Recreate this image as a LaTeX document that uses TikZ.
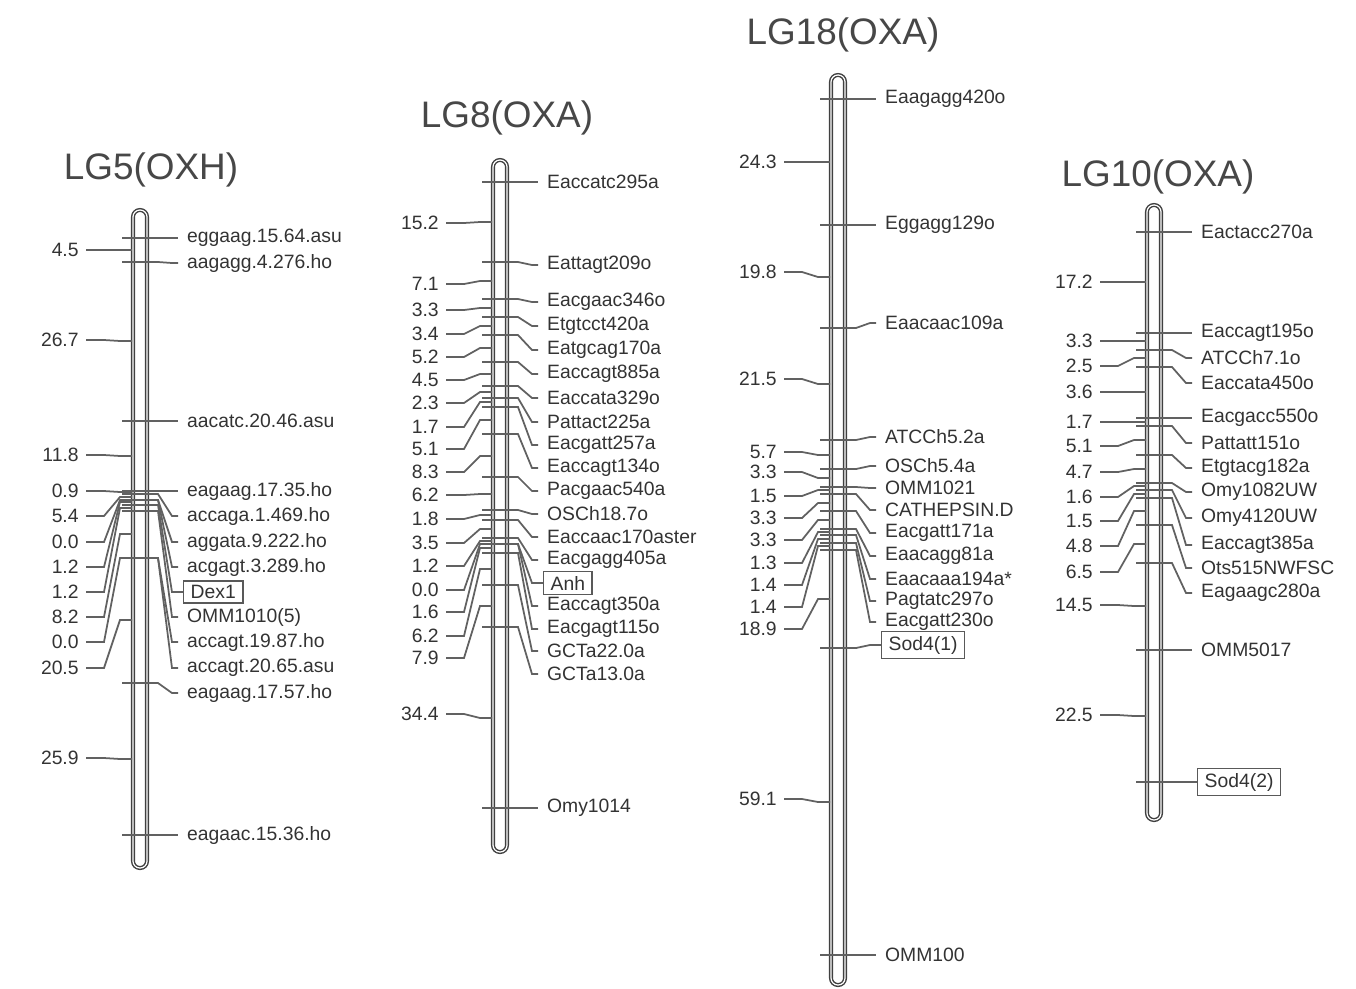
\documentclass[tikz,border=0pt]{standalone}
\usepackage{fontspec}
\setmainfont{Liberation Sans}
\usetikzlibrary{positioning}

\begin{document}
\begin{tikzpicture}[
  x=0.02cm, y=-0.02cm,
  every node/.style={font=\fontsize{11}{12}\selectfont, text=black!80},
  title/.style={font=\fontsize{21}{24}\selectfont, text=black!72},
  chrom/.style={draw=black!75, line width=0.8pt, double=white, double distance=0.7pt,
                fill=white, rounded corners=3.9pt},
  tick/.style={draw=black!62, line width=1pt},
  locus/.style={anchor=west, inner xsep=5pt, inner ysep=1pt},
  locusbox/.style={anchor=west, draw=black!65, line width=0.8pt, xshift=0.1cm,
                  inner xsep=4pt, inner ysep=2.5pt},
  dist/.style={anchor=east, inner xsep=4pt, inner ysep=1pt}
]
  \useasboundingbox (0,0) rectangle (1356,988);

  % LG5
  \begin{scope}[shift={(140,0)}]
    \node[title] (lg5) at (11,170) {LG5(OXH)};
    \draw[chrom] (-7,210) rectangle (7,868);
    \foreach \t/\l/\txt/\s [count=\i] in {
        238/238/eggaag.15.64.asu/locus, 262/263/aagagg.4.276.ho/locus,
        421/421/aacatc.20.46.asu/locus, 491/491/eagaag.17.35.ho/locus,
        494/516/accaga.1.469.ho/locus, 500/542/aggata.9.222.ho/locus,
        500/567/acgagt.3.289.ho/locus, 505/592/Dex1/locusbox,
        511/617/OMM1010(5)/locus, 558/642/accagt.19.87.ho/locus,
        558/668/accagt.20.65.asu/locus, 683/693/eagaag.17.57.ho/locus,
        835/835/eagaac.15.36.ho/locus}{
      \node[\s] (lg5m\i) at (38,\l) {\txt};
      \draw[tick] (-18,\t) -- (18,\t) -- (32,\l) -- (lg5m\i.west);
    }
    \foreach \d/\m/\txt [count=\i] in {
        250/250/4.5, 340/341/26.7, 455/456/11.8, 491/492/0.9, 516/497/5.4,
        542/500/0.0, 567/502/1.2, 592/508/1.2, 617/534/8.2, 642/558/0.0,
        668/620/20.5, 758/759/25.9}{
      \node[dist] (lg5d\i) at (-54,\d) {\txt};
      \draw[tick] (lg5d\i.east) -- (-36,\d) -- (-20,\m) -- (-8,\m);
    }
  \end{scope}

  % LG8
  \begin{scope}[shift={(500,0)}]
    \node[title] (lg8) at (7,118) {LG8(OXA)};
    \draw[chrom] (-7,160) rectangle (7,852);
    \foreach \t/\l/\txt/\s [count=\i] in {
        182/182/Eaccatc295a/locus, 262/265/Eattagt209o/locus,
        299/302/Eacgaac346o/locus, 317/326/Etgtcct420a/locus,
        335/350/Eatgcag170a/locus, 362/374/Eaccagt885a/locus,
        386/398/Eaccata329o/locus, 398/422/Pattact225a/locus,
        407/445/Eacgatt257a/locus, 434/468/Eaccagt134o/locus,
        477/491/Pacgaac540a/locus, 510/514/OSCh18.7o/locus,
        520/537/Eaccaac170aster/locus, 538/560/Eacgagg405a/locus,
        544/583/Anh/locusbox, 544/606/Eaccagt350a/locus,
        553/629/Eacgagt115o/locus, 585/651/GCTa22.0a/locus,
        627/674/GCTa13.0a/locus, 808/808/Omy1014/locus}{
      \node[\s] (lg8m\i) at (38,\l) {\txt};
      \draw[tick] (-18,\t) -- (18,\t) -- (32,\l) -- (lg8m\i.west);
    }
    \foreach \d/\m/\txt [count=\i] in {
        223/222/15.2, 284/281/7.1, 310/308/3.3, 334/326/3.4, 357/348/5.2,
        380/374/4.5, 403/392/2.3, 427/402/1.7, 449/420/5.1, 472/456/8.3,
        495/494/6.2, 519/515/1.8, 543/529/3.5, 566/541/1.2, 590/544/0.0,
        612/548/1.6, 636/569/6.2, 658/606/7.9, 714/718/34.4}{
      \node[dist] (lg8d\i) at (-54,\d) {\txt};
      \draw[tick] (lg8d\i.east) -- (-36,\d) -- (-20,\m) -- (-8,\m);
    }
  \end{scope}

  % LG18
  \begin{scope}[shift={(838,0)}]
    \node[title] (lg18) at (5,35) {LG18(OXA)};
    \draw[chrom] (-7,75) rectangle (7,985);
    \foreach \t/\l/\txt/\s [count=\i] in {
        99/99/Eaagagg420o/locus, 225/225/Eggagg129o/locus,
        328/323/Eaacaac109a/locus, 440/437/ATCCh5.2a/locus,
        469/466/OSCh5.4a/locus, 487/488/OMM1021/locus,
        494/510/CATHEPSIN.D/locus, 511/533/Eacgatt171a/locus,
        529/556/Eaacagg81a/locus, 535/579/Eaacaaa194a*/locus,
        543/601/Pagtatc297o/locus, 550/622/Eacgatt230o/locus,
        648/645/Sod4(1)/locusbox, 955/955/OMM100/locus}{
      \node[\s] (lg18m\i) at (38,\l) {\txt};
      \draw[tick] (-18,\t) -- (18,\t) -- (32,\l) -- (lg18m\i.west);
    }
    \foreach \d/\m/\txt [count=\i] in {
        162/162/24.3, 272/277/19.8, 379/384/21.5, 452/455/5.7, 472/478/3.3,
        496/490/1.5, 518/503/3.3, 540/520/3.3, 563/532/1.3, 585/539/1.4,
        607/546/1.4, 629/599/18.9, 799/802/59.1}{
      \node[dist] (lg18d\i) at (-54,\d) {\txt};
      \draw[tick] (lg18d\i.east) -- (-36,\d) -- (-20,\m) -- (-8,\m);
    }
  \end{scope}

  % LG10
  \begin{scope}[shift={(1154,0)}]
    \node[title] (lg10) at (4,177) {LG10(OXA)};
    \draw[chrom] (-7,205) rectangle (7,820);
    \foreach \t/\l/\txt/\s [count=\i] in {
        232/232/Eactacc270a/locus, 333/333/Eaccagt195o/locus,
        350/358/ATCCh7.1o/locus, 367/383/Eaccata450o/locus,
        418/418/Eacgacc550o/locus, 426/443/Pattatt151o/locus,
        455/468/Etgtacg182a/locus, 483/492/Omy1082UW/locus,
        490/518/Omy4120UW/locus, 498/545/Eaccagt385a/locus,
        525/568/Ots515NWFSC/locus, 563/593/Eagaagc280a/locus,
        650/650/OMM5017/locus, 782/782/Sod4(2)/locusbox}{
      \node[\s] (lg10m\i) at (38,\l) {\txt};
      \draw[tick] (-18,\t) -- (18,\t) -- (32,\l) -- (lg10m\i.west);
    }
    \foreach \d/\m/\txt [count=\i] in {
        282/282/17.2, 341/341/3.3, 366/358/2.5, 392/392/3.6, 422/422/1.7,
        446/440/5.1, 472/469/4.7, 497/486/1.6, 521/494/1.5, 546/511/4.8,
        572/544/6.5, 605/606/14.5, 715/716/22.5}{
      \node[dist] (lg10d\i) at (-54,\d) {\txt};
      \draw[tick] (lg10d\i.east) -- (-36,\d) -- (-20,\m) -- (-8,\m);
    }
  \end{scope}

\end{tikzpicture}
\end{document}
